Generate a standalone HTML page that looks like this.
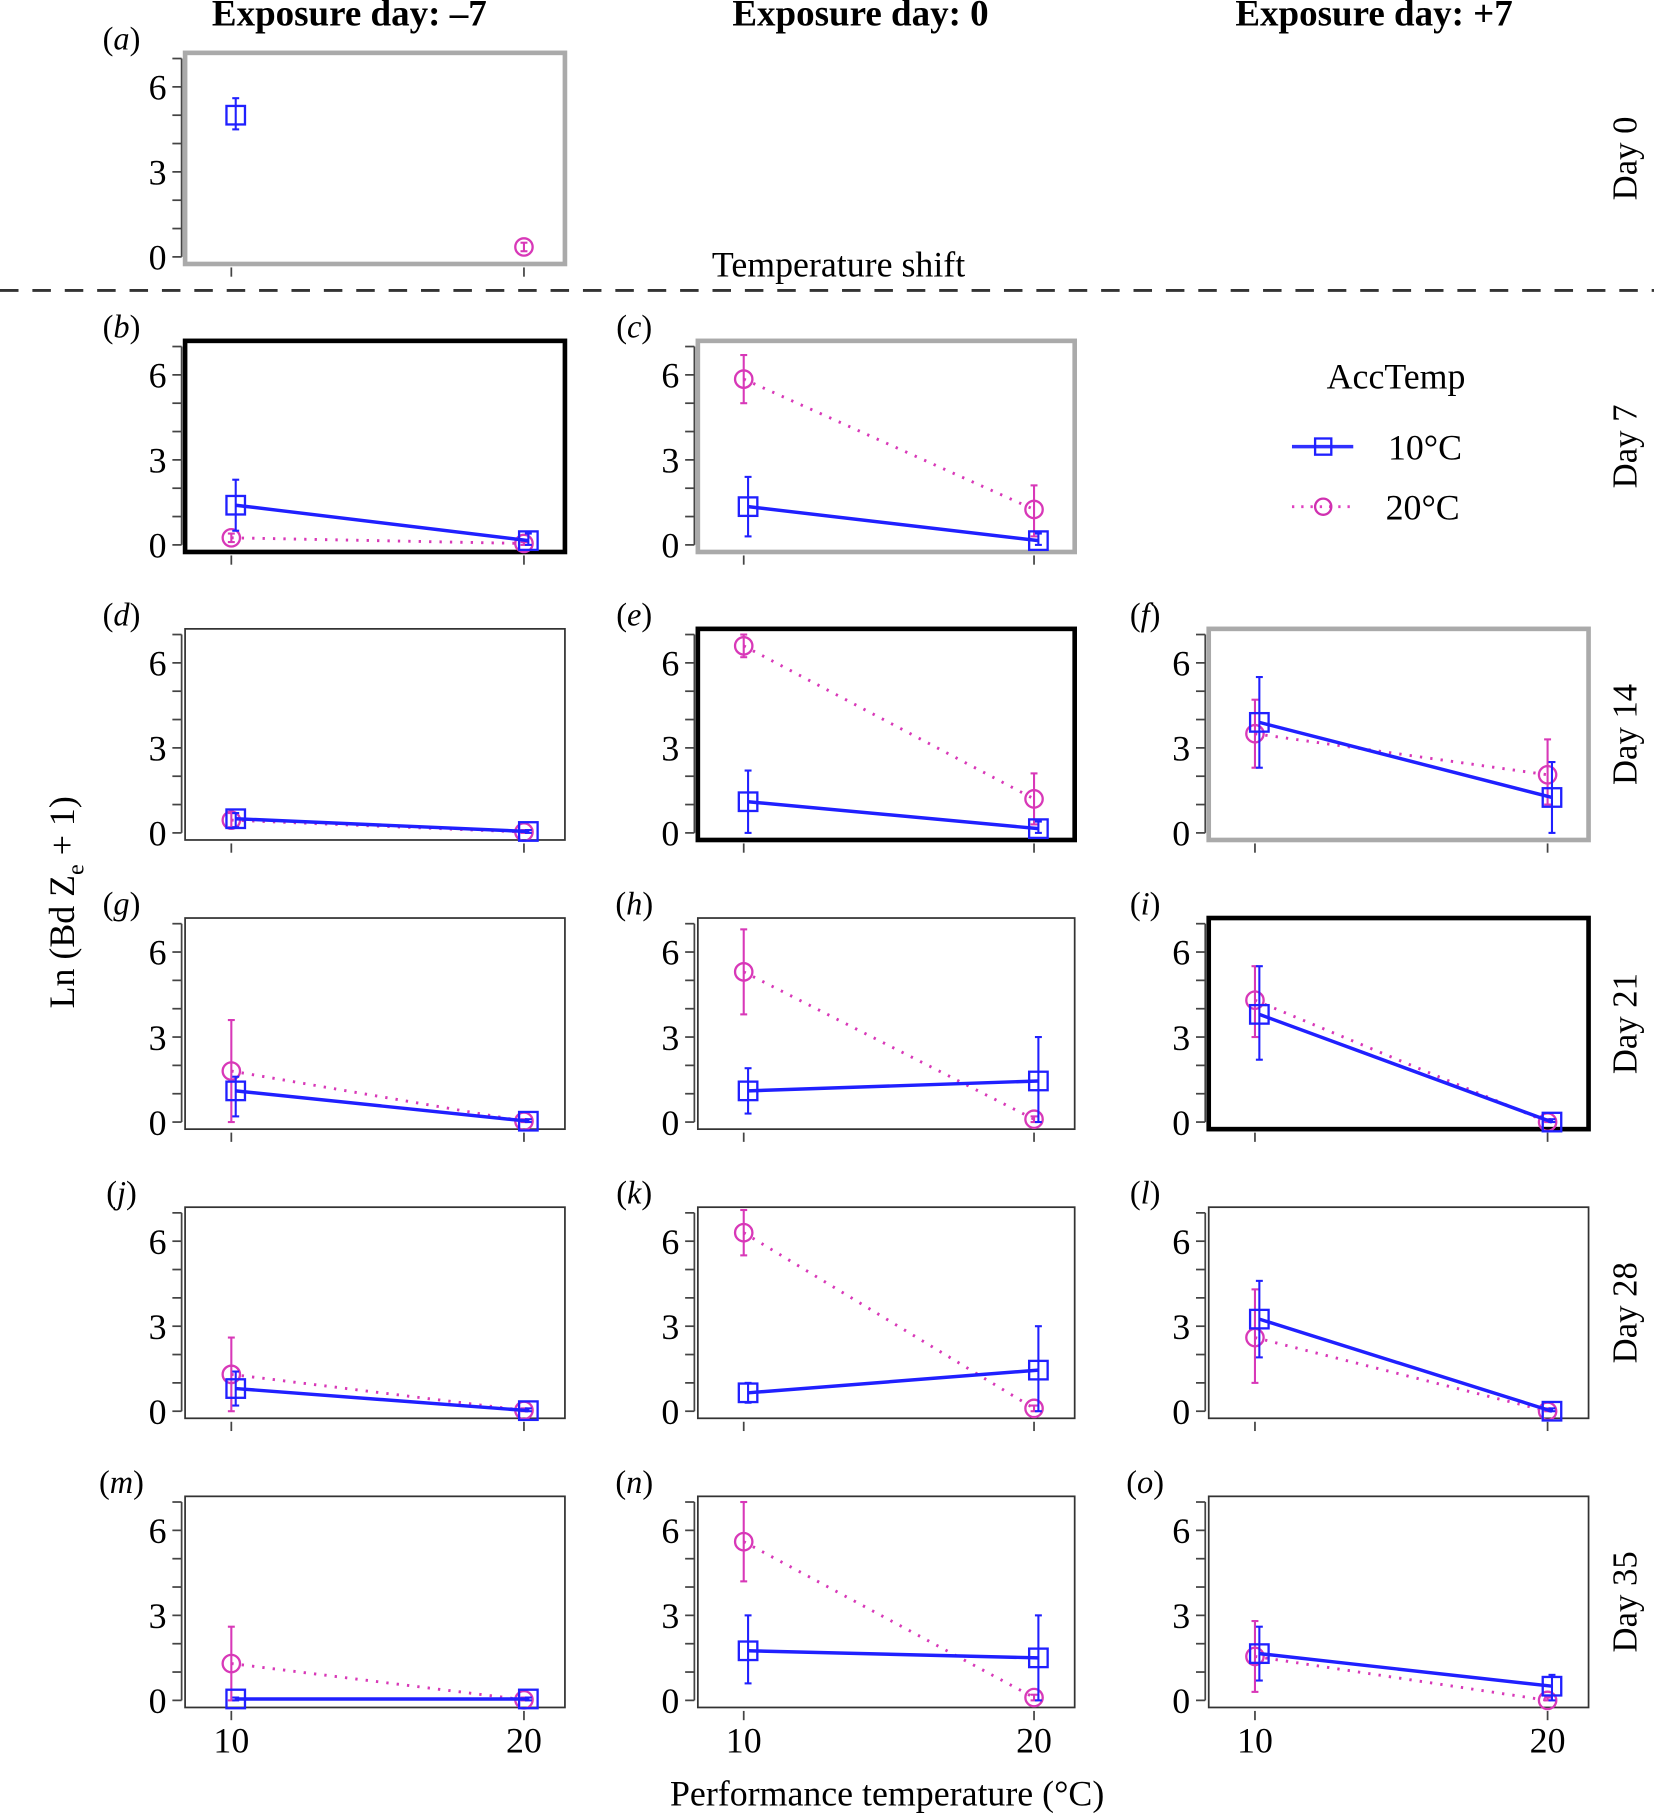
<!DOCTYPE html>
<html><head><meta charset="utf-8"><style>
html,body{margin:0;padding:0;background:#fff;}
svg{display:block;}
</style></head><body>
<svg id="chart" width="1654" height="1815" viewBox="0 0 1430 1569" xmlns="http://www.w3.org/2000/svg" font-family="'Liberation Serif', 'Times New Roman', serif">
<rect width="1430" height="1569" fill="#fff"/>
<g font-weight="bold" font-size="32" text-anchor="middle">
<text x="302" y="22">Exposure day: –7</text>
<text x="744" y="22">Exposure day: 0</text>
<text x="1188" y="22">Exposure day: +7</text>
</g>
<line x1="0" y1="251" x2="1430" y2="251" stroke="#333" stroke-width="2.5" stroke-dasharray="16,12"/>
<text x="725" y="239" font-size="31" text-anchor="middle">Temperature shift</text>
<text transform="translate(64,780) rotate(-90)" font-size="31" text-anchor="middle">Ln (Bd Z<tspan font-size="21" dy="8">e</tspan><tspan dy="-8"> + 1)</tspan></text>
<text x="767" y="1561" font-size="31" text-anchor="middle">Performance temperature (°C)</text>
<g>
<text x="1207" y="336" font-size="31" text-anchor="middle">AccTemp</text>
<line x1="1117" y1="386" x2="1170" y2="386" stroke="#3030ff" stroke-width="3"/>
<rect x="1137" y="379" width="14" height="14" fill="none" stroke="#2020ff" stroke-width="2"/>
<text x="1232" y="397" font-size="31" text-anchor="middle">10°C</text>
<line x1="1117" y1="438" x2="1170" y2="438" stroke="#e040c0" stroke-width="2.5" stroke-dasharray="2,6"/>
<circle cx="1144" cy="438" r="7" fill="none" stroke="#d030b0" stroke-width="2"/>
<text x="1230" y="449" font-size="31" text-anchor="middle">20°C</text>
</g>
<g id="panels"></g>
</svg>
<script>
const panelIds = ['a','b','c','d','e','f','g','h','i','j','k','l','m','n','o'];
const panelRow = [0,1,1,2,2,2,3,3,3,4,4,4,5,5,5];
const panelCol = [0,0,1,0,1,2,0,1,2,0,1,2,0,1,2];
const panelFrame = ['gray','black','gray','thin','black','gray','thin','thin','black','thin','thin','thin','thin','thin','thin'];
const rowLabels = ['Day 0','Day 7','Day 14','Day 21','Day 28','Day 35'];
const temps = [10, 20];
const blueVal = [[5.0,null],[1.4,0.15],[1.35,0.15],[0.5,0.05],[1.1,0.15],[3.9,1.25],[1.1,0.03],[1.1,1.45],[3.8,0.0],[0.8,0.02],[0.65,1.45],[3.25,0.0],[0.05,0.05],[1.75,1.5],[1.65,0.5]];
const blueLo = [[4.5,null],[0.5,0.0],[0.3,0.0],[0.2,0.0],[0.0,0.0],[2.3,0.0],[0.2,0.0],[0.3,0.0],[2.2,0.0],[0.2,0.0],[0.3,0.0],[1.9,0.0],[0.0,0.0],[0.6,0.0],[0.7,0.0]];
const blueHi = [[5.6,null],[2.3,0.4],[2.4,0.4],[0.7,0.1],[2.2,0.4],[5.5,2.5],[1.6,0.1],[1.9,3.0],[5.5,0.1],[1.4,0.1],[1.0,3.0],[4.6,0.1],[0.1,0.1],[3.0,3.0],[2.6,0.9]];
const pinkVal = [[null,0.35],[0.25,0.05],[5.85,1.25],[0.45,0.03],[6.6,1.2],[3.5,2.05],[1.8,0.03],[5.3,0.1],[4.3,0.0],[1.3,0.03],[6.3,0.1],[2.6,0.0],[1.3,0.02],[5.6,0.1],[1.55,0.0]];
const pinkLo = [[null,0.2],[0.1,0.0],[5.0,0.3],[0.2,0.0],[6.2,0.3],[2.3,1.0],[0.0,0.0],[3.8,0.0],[3.0,0.0],[0.0,0.0],[5.5,0.0],[1.0,0.0],[0.0,0.0],[4.2,0.0],[0.3,0.0]];
const pinkHi = [[null,0.5],[0.4,0.1],[6.7,2.1],[0.7,0.1],[7.0,2.1],[4.7,3.3],[3.6,0.1],[6.8,0.2],[5.5,0.1],[2.6,0.1],[7.1,0.2],[4.3,0.1],[2.6,0.1],[7.0,0.2],[2.8,0.1]];
const yTickLabels = [0,3,6];
const xTickLabels = [10,20];

const NS='http://www.w3.org/2000/svg';
const colX10=[200,643,1085], colX20=[453,894,1338];
const rowY0=[222,471,720,970,1220,1470];
const unit=24.5;
function xs(c,t){return colX10[c]+(t-10)*(colX20[c]-colX10[c])/10;}
function ys(r,v){return rowY0[r]-v*unit;}
function mk(tag,attrs,parent){const e=document.createElementNS(NS,tag);for(const k in attrs)e.setAttribute(k,attrs[k]);parent.appendChild(e);return e;}
const root=document.getElementById('panels');
rowLabels.forEach((lab,r)=>{
  const cy=(ys(r,7.2)+ys(r,-0.25))/2;
  const t=mk('text',{transform:`translate(1415,${cy}) rotate(-90)`,'font-size':30,'text-anchor':'middle'},root);
  
  
  t.textContent=lab;
});
panelIds.forEach((id,i)=>{
  const r=panelRow[i], c=panelCol[i];
  const g=mk('g',{},root);
  
  
  const L=xs(c,8.42), R=xs(c,21.4), T=ys(r,7.2), B=ys(r,-0.25);
  const lt=mk('text',{x:L-55,y:T-3,'font-size':28,'font-style':'italic','text-anchor':'middle'},g);
  
  
  lt.innerHTML='<tspan font-style="normal">(</tspan>'+id+'<tspan font-style="normal">)</tspan>';
  const ax=L-3;
  const yl=mk('line',{x1:ax,x2:ax,y1:ys(r,7),y2:ys(r,0),stroke:'#444','stroke-width':1.5},g);
  
  
  for(let v=0;v<=7;v++){
    const tk=mk('line',{x1:ax-8,x2:ax,y1:ys(r,v),y2:ys(r,v),stroke:'#444','stroke-width':1.5},g);
    
    
  }
  yTickLabels.forEach(v=>{
    const t=mk('text',{x:ax-13,y:ys(r,v)+11,'font-size':31,'text-anchor':'end'},g);
    
    
    t.textContent=v;
  });
  xTickLabels.forEach(t0=>{
    const tk=mk('line',{x1:xs(c,t0),x2:xs(c,t0),y1:B+3,y2:B+11,stroke:'#444','stroke-width':1.5},g);
    
    
    if(r===5){
      const t=mk('text',{x:xs(c,t0),y:B+39,'font-size':31,'text-anchor':'middle'},g);
      
      
      t.textContent=t0;
    }
  });
  const fr=panelFrame[i];
  const box=mk('rect',{x:L,y:T,width:R-L,height:B-T,fill:'none',
    stroke:fr==='gray'?'#aaaaaa':(fr==='black'?'#000':'#333'),
    'stroke-width':fr==='thin'?1.5:4},g);
  
  
  function series(vals,lo,hi,off,color,dash,shape,name){
    const v=vals[i];
    if(v[0]!==null&&v[1]!==null){
      const ln=mk('line',{x1:xs(c,temps[0]+off),y1:ys(r,v[0]),x2:xs(c,temps[1]+off),y2:ys(r,v[1]),stroke:color,'stroke-width':dash?2.5:3},g);
      if(dash) ln.setAttribute('stroke-dasharray','2,7');
      
      
    }
    for(let k=0;k<2;k++){
      if(v[k]===null) continue;
      const x=xs(c,temps[k]+off);
      const eb=mk('line',{x1:x,x2:x,y1:ys(r,lo[i][k]),y2:ys(r,hi[i][k]),stroke:color,'stroke-width':1.8},g);
      
      
      [lo[i][k],hi[i][k]].forEach(e=>{
        const cap=mk('line',{x1:x-3,x2:x+3,y1:ys(r,e),y2:ys(r,e),stroke:color,'stroke-width':1.8},g);
        
        
      });
      let m;
      if(shape==='sq') m=mk('rect',{x:x-8,y:ys(r,v[k])-8,width:16,height:16,fill:'none',stroke:color,'stroke-width':2},g);
      else m=mk('circle',{cx:x,cy:ys(r,v[k]),r:7.5,fill:'none',stroke:color,'stroke-width':2},g);
      
      
    }
  }
  series(pinkVal,pinkLo,pinkHi,0.0,'#d838b8',true,'ci','acc20');
  series(blueVal,blueLo,blueHi,0.15,'#2020ff',false,'sq','acc10');
});
</script>
</body></html>
